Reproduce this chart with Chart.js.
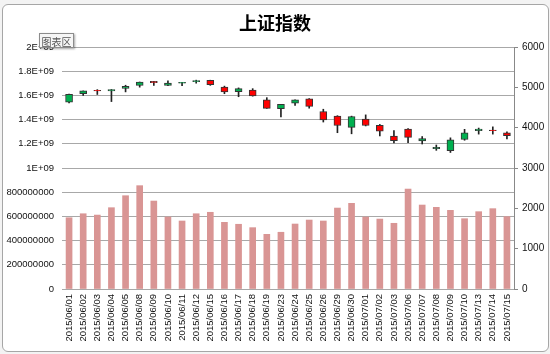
<!DOCTYPE html>
<html lang="zh">
<head>
  <meta charset="UTF-8" />
  <title>上证指数</title>
  <style>
    body { margin:0; background:#f3f3f3; }
    .wrap { position:relative; width:550px; height:354px; overflow:hidden; }
    .frame { position:absolute; left:2px; top:4px; width:545px; height:346px; background:#fff;
             border:1px solid #a6a6a6; border-radius:6px; }
    #c { position:absolute; left:0; top:0; }
    .tip { position:absolute; left:39px; top:33px; width:33px; height:13px; line-height:13px;
           font:10px "Noto Sans CJK SC", sans-serif; color:#555; text-align:center;
           background:#f6f6f6; border:1px solid #8c8c8c; box-shadow:1px 1px 2px rgba(0,0,0,.35); }
  </style>
  <script src="https://cdn.jsdelivr.net/npm/chart.js"></script>
</head>
<body>
<div class="wrap">
  <div class="frame"></div>
  <canvas id="c" width="550" height="354"></canvas>
  <div class="tip">图表区</div>
</div>
<script>
const dates = ['2015/06/01','2015/06/02','2015/06/03','2015/06/04','2015/06/05','2015/06/08','2015/06/09','2015/06/10',
  '2015/06/11','2015/06/12','2015/06/15','2015/06/16','2015/06/17','2015/06/18','2015/06/19','2015/06/23',
  '2015/06/24','2015/06/25','2015/06/26','2015/06/29','2015/06/30','2015/07/01','2015/07/02','2015/07/03',
  '2015/07/06','2015/07/07','2015/07/08','2015/07/09','2015/07/10','2015/07/13','2015/07/14','2015/07/15'];
const opens  = [4633,4845,4924,4913,4976,5046,5146,5049,5101,5143,5174,5004,4890,4931,4690,4472,
                4605,4712,4400,4290,4007,4214,4059,3794,3962,3672,3478,3432,3707,3925,3938,3875];
const highs  = [4830,4911,4943,4947,5052,5132,5147,5164,5122,5178,5177,5030,4986,4967,4744,4578,
                4692,4721,4457,4297,4286,4317,4080,3927,3975,3780,3570,3748,3959,3990,4020,3895];
const lows   = [4616,4798,4823,4647,4887,5004,5047,5041,5040,5103,5049,4842,4767,4781,4477,4265,
                4553,4483,4140,3875,3848,4043,3795,3620,3630,3595,3438,3385,3688,3840,3840,3720];
const closes = [4829,4911,4910,4947,5023,5132,5114,5106,5122,5166,5063,4887,4968,4785,4478,4576,
                4690,4528,4193,4053,4277,4054,3913,3680,3760,3732,3515,3700,3870,3968,3928,3800];
const volumes = [589e6,622e6,611e6,672e6,771e6,854e6,727e6,595e6,562e6,622e6,634e6,551e6,535e6,507e6,452e6,469e6,
                 537e6,570e6,562e6,669e6,708e6,595e6,578e6,543e6,826e6,694e6,675e6,650e6,581e6,639e6,664e6,598e6];
const leftTickLabels = ['0','200000000','400000000','600000000','800000000','1E+09','1.2E+09','1.4E+09','1.6E+09','1.8E+09','2E+09'];
const rightTickLabels = ['0','1000','2000','3000','4000','5000','6000'];

const upColor = '#00B050', downColor = '#FF0000';
const candleColors = closes.map((c, i) => c >= opens[i] ? upColor : downColor);
const tickFont = { family: '"Liberation Sans", Arial, sans-serif', size: 9.5 };

new Chart(document.getElementById('c'), {
  type: 'bar',
  data: {
    labels: dates,
    datasets: [
      {
        label: 'body', yAxisID: 'y2', order: 0, grouped: false,
        data: opens.map((o, i) => [o, closes[i]]),
        backgroundColor: candleColors, borderColor: '#333', borderWidth: 1,
        borderSkipped: false, barThickness: 7
      },
      {
        label: 'wick', yAxisID: 'y2', order: 1, grouped: false,
        data: lows.map((l, i) => [l, highs[i]]),
        backgroundColor: '#222', borderWidth: 0, barThickness: 1
      },
      {
        label: 'volume', yAxisID: 'y', order: 2, grouped: false,
        data: volumes,
        backgroundColor: '#D99594', borderWidth: 0, barThickness: 6
      }
    ]
  },
  options: {
    responsive: false,
    animation: false,
    layout: { padding: 0 },
    plugins: {
      legend: { display: false },
      tooltip: { enabled: false },
      title: {
        display: true, text: '上证指数', color: '#000',
        font: { family: '"Noto Sans CJK SC", sans-serif', size: 18, weight: 'bold' },
        padding: { top: 12, bottom: 13.4 }
      }
    },
    scales: {
      x: {
        offset: true,
        grid: { display: false, drawTicks: false },
        border: { display: false },
        ticks: { autoSkip: false, minRotation: 90, maxRotation: 90, padding: 5, color: '#111', font: tickFont },
        afterFit: s => { s.height = 65; }
      },
      y: {
        position: 'left', min: 0, max: 2e9,
        grid: { color: '#a8a8a8', lineWidth: 1, drawTicks: false },
        border: { display: false },
        ticks: { stepSize: 2e8, padding: 8, color: '#111', font: tickFont,
                 callback: (v, i) => leftTickLabels[i] },
        afterFit: s => { s.width = 62; }
      },
      y2: {
        position: 'right', min: 0, max: 6000,
        grid: { drawOnChartArea: false, drawTicks: true, tickLength: 4, color: '#888' },
        border: { display: true, color: '#888' },
        ticks: { stepSize: 1000, padding: 4, color: '#111', font: { family: tickFont.family, size: 10 },
                 callback: (v, i) => rightTickLabels[i] },
        afterFit: s => { s.width = 36; }
      }
    }
  }
});
</script>
</body>
</html>
